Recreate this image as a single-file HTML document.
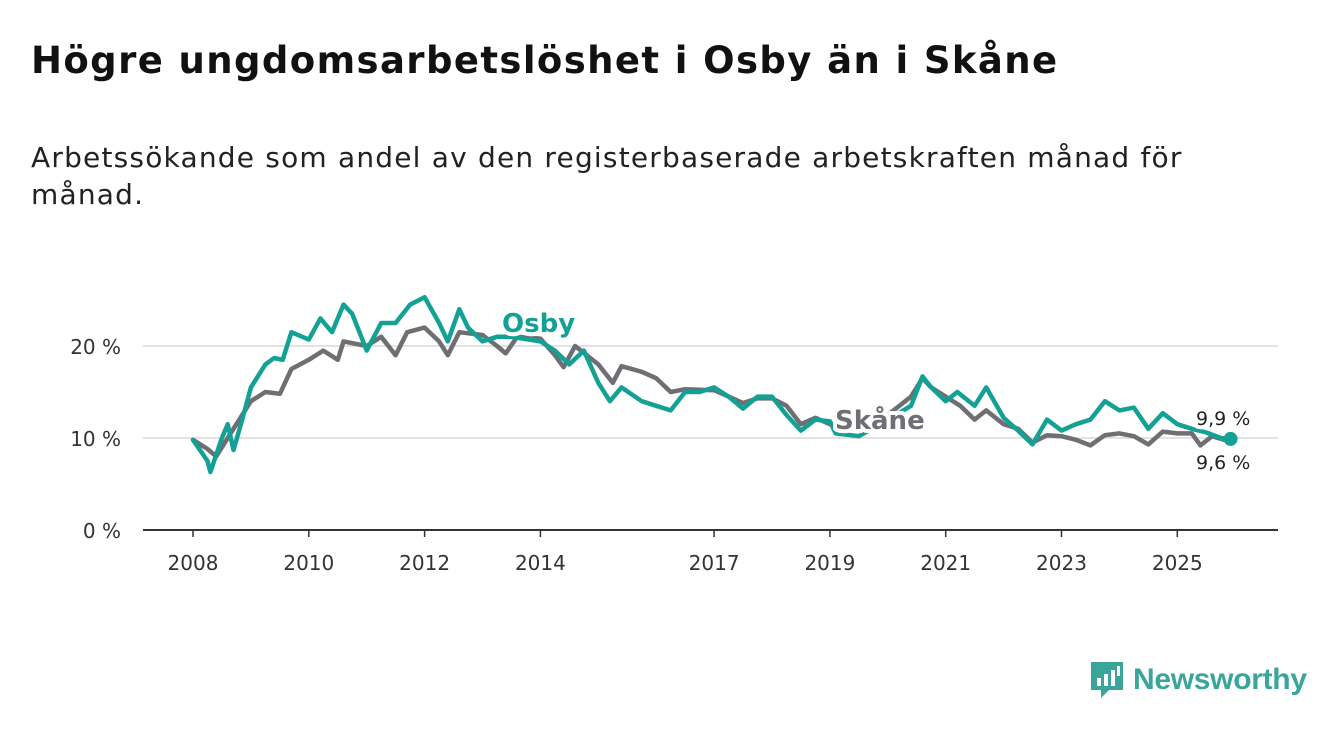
<!DOCTYPE html>
<html><head><meta charset="utf-8">
<style>
body{margin:0;background:#fff;font-family:"DejaVu Sans",sans-serif;}
#wrap{position:relative;width:1340px;height:734px;overflow:hidden;}
h1{position:absolute;left:31px;top:39px;margin:0;font-size:37px;font-weight:bold;color:#111;letter-spacing:1.4px}
p.sub{position:absolute;left:31px;top:139px;margin:0;font-size:28px;line-height:37px;color:#222;width:1290px;letter-spacing:1.2px}
svg{position:absolute;left:0;top:0}
</style></head><body>
<div id="wrap">
<h1>Högre ungdomsarbetslöshet i Osby än i Skåne</h1>
<p class="sub">Arbetssökande som andel av den registerbaserade arbetskraften månad för<br>månad.</p>
<svg id="chart" width="1340" height="734"></svg>
<div style="position:absolute;left:1089px;top:660px;height:40px;display:flex;align-items:center">
<svg width="36" height="40" style="position:static"><path d="M2 2h32v28h-14l-8 8v-8h-10z" fill="#3aa59a"/><rect x="8" y="18" width="4" height="8" fill="#fff"/><rect x="15" y="14" width="4" height="12" fill="#fff"/><rect x="22" y="10" width="4" height="16" fill="#fff"/><rect x="28" y="6" width="3" height="10" fill="#fff"/></svg>
<span style="margin-left:8px;font-family:'Liberation Sans',sans-serif;font-size:30px;color:#3aa59a;font-weight:bold;letter-spacing:-0.3px">Newsworthy</span></div>
</div>
<script>
const osbyT=[2008.0,2008.25,2008.3,2008.5,2008.6,2008.7,2008.85,2009.0,2009.25,2009.4,2009.55,2009.7,2010.0,2010.2,2010.4,2010.6,2010.75,2011.0,2011.25,2011.5,2011.75,2012.0,2012.25,2012.4,2012.6,2012.75,2013.0,2013.25,2013.5,2014.0,2014.25,2014.5,2014.75,2015.0,2015.2,2015.4,2015.75,2016.0,2016.25,2016.5,2016.75,2017.0,2017.25,2017.5,2017.75,2018.0,2018.25,2018.5,2018.75,2019.0,2019.1,2019.5,2020.0,2020.4,2020.6,2020.75,2021.0,2021.2,2021.5,2021.7,2022.0,2022.25,2022.5,2022.75,2023.0,2023.25,2023.5,2023.75,2024.0,2024.25,2024.5,2024.75,2025.0,2025.25,2025.5,2025.75,2025.92];
const osbyV=[9.8,7.5,6.3,10,11.5,8.7,12,15.5,18,18.7,18.5,21.5,20.7,23,21.5,24.5,23.5,19.5,22.5,22.5,24.5,25.3,22.5,20.5,24,22,20.5,21,21,20.5,19.5,18,19.5,16,14,15.5,14,13.5,13,15,15,15.5,14.5,13.2,14.5,14.5,12.5,10.8,12,11.8,10.5,10.2,12,13.5,16.7,15.5,14,15,13.5,15.5,12.2,10.8,9.3,12,10.8,11.5,12,14,13,13.3,11,12.7,11.5,11,10.6,10,9.9];
const skaneT=[2008.0,2008.25,2008.4,2008.6,2008.75,2009.0,2009.25,2009.5,2009.7,2010.0,2010.25,2010.5,2010.6,2011.0,2011.25,2011.5,2011.7,2012.0,2012.25,2012.4,2012.6,2013.0,2013.25,2013.4,2013.6,2014.0,2014.25,2014.4,2014.6,2015.0,2015.25,2015.4,2015.75,2016.0,2016.25,2016.5,2017.0,2017.25,2017.5,2017.75,2018.0,2018.25,2018.5,2018.75,2019.0,2019.5,2020.0,2020.4,2020.6,2020.75,2021.0,2021.25,2021.5,2021.7,2022.0,2022.25,2022.5,2022.75,2023.0,2023.25,2023.5,2023.75,2024.0,2024.25,2024.5,2024.75,2025.0,2025.25,2025.4,2025.6,2025.92];
const skaneV=[9.8,8.8,8,10,11.5,14,15,14.8,17.5,18.5,19.5,18.5,20.5,20,21,19,21.5,22,20.5,19,21.5,21.2,20,19.2,21,20.8,19,17.7,20,18,16,17.8,17.2,16.5,15,15.3,15.2,14.5,13.8,14.3,14.3,13.5,11.5,12.2,11.5,11.5,12.5,14.5,16.5,15.5,14.5,13.5,12,13,11.5,11,9.5,10.3,10.2,9.8,9.2,10.3,10.5,10.2,9.3,10.7,10.5,10.5,9.2,10.2,9.6];
const yTicks=[0,10,20];
const yTickLabels=["0 %","10 %","20 %"];
const xTicks=[2008,2010,2012,2014,2017,2019,2021,2023,2025];
const NS="http://www.w3.org/2000/svg";
const FONT="DejaVu Sans, sans-serif";
const svg=document.getElementById('chart');
const X=t=>193+(t-2008)*57.9;
const Y=v=>530-v*9.2;
function mk(tag,at,parent){const e=document.createElementNS(NS,tag);for(const k in at)e.setAttribute(k,at[k]);(parent||svg).appendChild(e);return e;}
yTicks.forEach((v,i)=>{
  if(v>0){const g=mk('line',{x1:143,x2:1278,y1:Y(v),y2:Y(v),stroke:'#d9d9d9','stroke-width':1.5});
  
  }
  const t=mk('text',{x:121,y:Y(v)+8,'text-anchor':'end','font-size':20,fill:'#333','font-family':FONT});
  t.textContent=yTickLabels[i];
  
  
});
const ax=mk('line',{x1:143,x2:1278,y1:530,y2:530,stroke:'#333','stroke-width':2});


xTicks.forEach(y=>{
  const tk=mk('line',{x1:X(y),x2:X(y),y1:530,y2:537,stroke:'#333','stroke-width':1.5});
  
  
  const t=mk('text',{x:X(y),y:570,'text-anchor':'middle','font-size':20,fill:'#333','font-family':FONT});
  t.textContent=y;
  
  
});
function line(T,V,color,name){
  const d=T.map((t,i)=>(i?'L':'M')+X(t).toFixed(1)+' '+Y(V[i]).toFixed(1)).join('');
  const p=mk('path',{d:d,fill:'none',stroke:color,'stroke-width':4.5,'stroke-linejoin':'round','stroke-linecap':'round'});
  
  
}
line(skaneT,skaneV,'#6e6e73','skane-line');
line(osbyT,osbyV,'#13a196','osby-line');
const dot=mk('circle',{cx:X(osbyT[osbyT.length-1]),cy:Y(osbyV[osbyV.length-1]),r:7,fill:'#13a196'});


function lbl(x,y,txt,color,bold,size,name){
  const t=mk('text',{x:x,y:y,'font-size':size,fill:color,'font-weight':bold?'bold':'normal',stroke:'#fff','stroke-width':8,'paint-order':'stroke','stroke-linejoin':'round','font-family':FONT});
  t.textContent=txt;
  
  
}
lbl(502,332,'Osby','#13a196',true,26,'osby-label');
lbl(835,429,'Skåne','#6e6e73',true,26,'skane-label');
lbl(1196,425,'9,9 %','#222',false,19,'osby-end-value');
lbl(1196,469,'9,6 %','#222',false,19,'skane-end-value');
</script>
</body></html>
